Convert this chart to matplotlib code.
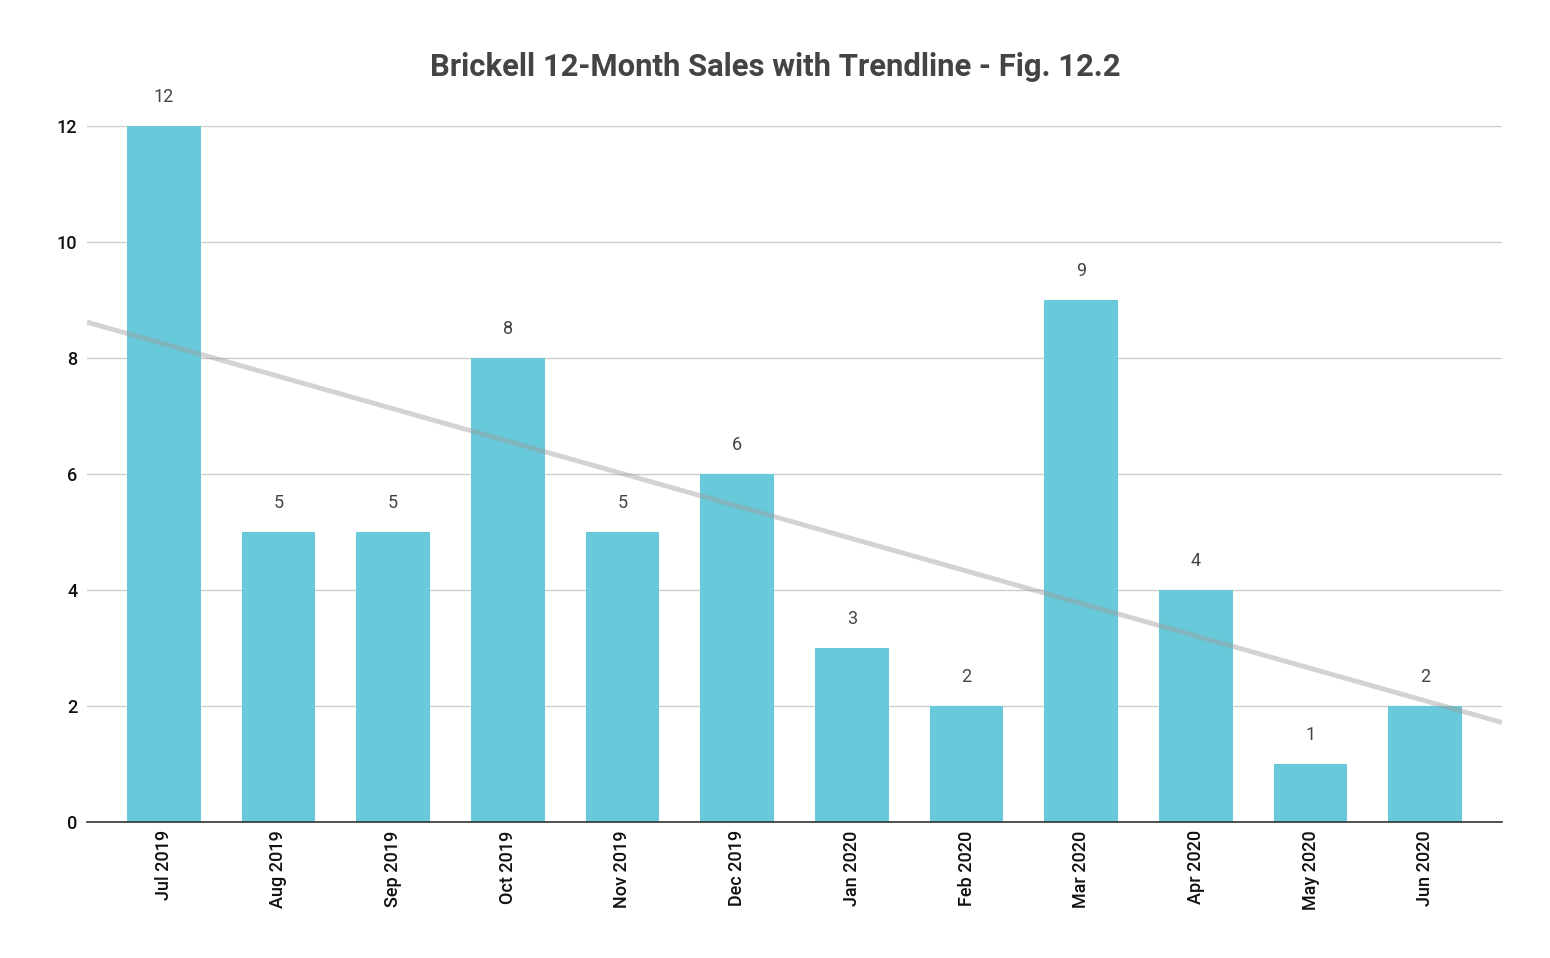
import matplotlib
matplotlib.use("Agg")
import matplotlib.pyplot as plt
import numpy as np

plt.rcParams['font.family'] = ['Roboto', 'DejaVu Sans']

months = ["Jul 2019", "Aug 2019", "Sep 2019", "Oct 2019", "Nov 2019", "Dec 2019",
          "Jan 2020", "Feb 2020", "Mar 2020", "Apr 2020", "May 2020", "Jun 2020"]
sales = [12, 5, 5, 8, 5, 6, 3, 2, 9, 4, 1, 2]
yticks = [0, 2, 4, 6, 8, 10, 12]
title = "Brickell 12-Month Sales with Trendline - Fig. 12.2"

W, H = 1550, 958
fig = plt.figure(figsize=(W / 100, H / 100), dpi=100)
ax = fig.add_axes([87 / W, 1 - 822 / H, (1502 - 87) / W, (822 - 126) / H])

x = np.arange(len(months))
ax.bar(x, sales, width=0.64, color="#68C9DA", zorder=2)

for xi, v in zip(x, sales):
    ax.annotate(str(v), (xi, v), xytext=(0, 21), textcoords="offset points",
                ha="center", va="center", fontsize=13, color="#444444")

# linear trendline
slope, intercept = np.polyfit(x, sales, 1)
xl = np.array([-0.67, len(months) - 1 + 0.67])
ax.plot(xl, slope * xl + intercept, color="#9e9e9e", alpha=0.45, lw=3.5, zorder=3,
        solid_capstyle="butt")

ax.set_xlim(-0.67, len(months) - 1 + 0.67)
ax.set_ylim(0, 12)
ax.set_yticks(yticks)
ax.set_yticklabels([str(t) for t in yticks], fontsize=13, color="#111111",
                   fontweight="medium")
ax.set_xticks(x)
ax.set_xticklabels(months, rotation=90, fontsize=13, color="#111111", fontweight="medium")
ax.tick_params(axis="x", length=0, pad=6)
ax.tick_params(axis="y", length=0, pad=7)

ax.grid(axis="y", color="#cccccc", lw=1, zorder=0)
ax.set_axisbelow(True)
for s in ["top", "right", "left"]:
    ax.spines[s].set_visible(False)
ax.spines["bottom"].set_color("#333333")
ax.spines["bottom"].set_linewidth(1.2)
ax.spines["bottom"].set_zorder(4)

fig.text(0.5, 1 - 67 / H, title, ha="center", va="center", fontsize=22.3,
         fontweight="bold", color="#444444")

fig.savefig("out.png", dpi=100, facecolor="white")
